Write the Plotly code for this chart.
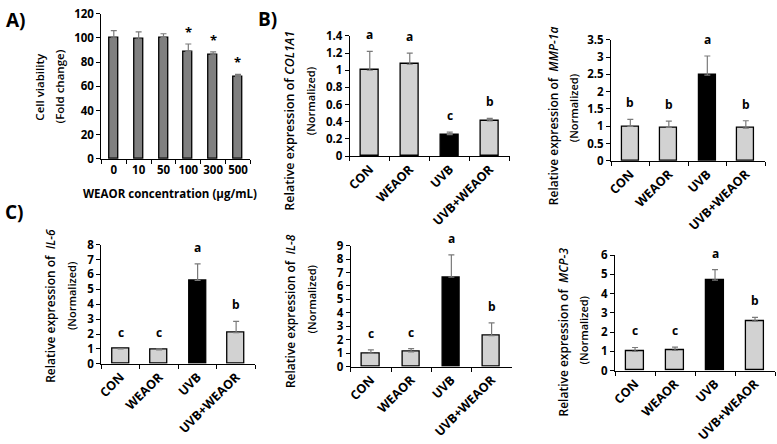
import plotly.graph_objects as go

W, H = 777, 444

# ---------------- data ----------------
conc = ["0", "10", "50", "100", "300", "500"]
viability = [100, 99, 100.5, 89, 86, 68]
viability_sd = [6, 6, 3, 6, 2.5, 2]
viability_sig = ["", "", "", "*", "*", "*"]

groups = ["CON", "WEAOR", "UVB", "UVB+WEAOR"]
col1a1 = [1.0, 1.07, 0.25, 0.41]
col1a1_sd = [0.22, 0.13, 0.03, 0.03]
col1a1_sig = ["a", "a", "c", "b"]

mmp1a = [1.0, 0.97, 2.48, 0.95]
mmp1a_sd = [0.2, 0.18, 0.55, 0.21]
mmp1a_sig = ["b", "b", "a", "b"]

il6 = [1.0, 0.93, 5.6, 2.1]
il6_sd = [0.02, 0.07, 1.1, 0.75]
il6_sig = ["c", "c", "a", "b"]

il8 = [1.0, 1.1, 6.65, 2.3]
il8_sd = [0.25, 0.25, 1.65, 0.95]
il8_sig = ["c", "c", "a", "b"]

mcp3 = [1.0, 1.05, 4.7, 2.57]
mcp3_sd = [0.2, 0.17, 0.55, 0.2]
mcp3_sig = ["c", "c", "a", "b"]

FONT = "Open Sans"

def px_x(p):
    return p / W

def px_y(p):
    return 1 - p / H

light, dark, mid = "#d2d2d2", "#000000", "#808080"
grp_colors = [light, light, dark, light]
panels = [
    (conc, viability, viability_sd, viability_sig, 120, 20, 97, 247, 6, 157, [mid] * 6, 0.36, 0, 11.5),
    (groups, col1a1, col1a1_sd, col1a1_sig, 1.4, 0.2, 347, 508, 29, 154, grp_colors, 0.43, -45, 12.5),
    (groups, mmp1a, mmp1a_sd, mmp1a_sig, 3.5, 0.5, 610, 765, 33, 159, grp_colors, 0.43, -45, 12.5),
    (groups, il6, il6_sd, il6_sig, 8, 1, 97, 252, 246, 370, grp_colors, 0.43, -45, 12.5),
    (groups, il8, il8_sd, il8_sig, 9, 1, 348, 510, 247, 373, grp_colors, 0.43, -45, 12.5),
    (groups, mcp3, mcp3_sd, mcp3_sig, 6, 1, 614, 775, 257, 377, grp_colors, 0.43, -45, 12.5),
]

fig = go.Figure()
annotations = []
layout = {}
for i, (cats, vals, sd, sig, ymax, dt, x0, x1, yt, yb, colors, bw, ta, xfs) in enumerate(panels, start=1):
    xa = "x" if i == 1 else f"x{i}"
    ya = "y" if i == 1 else f"y{i}"
    fig.add_trace(go.Bar(
        x=cats, y=vals, xaxis=xa, yaxis=ya, width=bw,
        marker=dict(color=colors, line=dict(color="black", width=1.3)),
        error_y=dict(type="data", symmetric=False, array=sd, arrayminus=[0] * len(sd),
                     color="#7a7a7a", thickness=1.2, width=3),
        showlegend=False, hoverinfo="skip",
    ))
    layout["xaxis" if i == 1 else f"xaxis{i}"] = dict(
        domain=[px_x(x0), px_x(x1)], anchor=ya, type="category",
        range=[-0.5, len(cats) - 0.5], showline=True, linecolor="black", linewidth=1.3,
        ticks="outside", tickson="boundaries", ticklen=4, tickcolor="black",
        tickangle=ta, showgrid=False, zeroline=False,
        tickfont=dict(family=FONT, size=xfs, color="black", weight="bold"),
    )
    layout["yaxis" if i == 1 else f"yaxis{i}"] = dict(
        domain=[px_y(yb), px_y(yt)], anchor=xa, range=[0, ymax], dtick=dt,
        showline=True, linecolor="black", linewidth=1.3, ticks="outside", ticklen=4,
        tickcolor="black", showgrid=False, zeroline=False,
        tickfont=dict(family=FONT, size=11.5, color="black", weight="bold"),
    )
    for k, (v, s, t) in enumerate(zip(vals, sd, sig)):
        if t:
            annotations.append(dict(
                x=k, y=v + s, xref=xa, yref=ya, text=t, showarrow=False,
                yanchor="bottom", yshift=(1 if t == "*" else 6),
                font=dict(family=FONT, size=(13 if t == "*" else 12), color="black", weight="bold"),
            ))

# y-axis titles (two lines each): text, x px, y px, size
ytitles = [
    ("Cell viability", 35, 82, 11.5), ("(Fold change)", 55, 82, 11.5),
    ("Relative expression of <i>COL1A1</i>", 286, 117, 12.5), ("(Normalized)", 307, 97, 11),
    ("Relative expression of  <i>MMP-1a</i>", 552, 112, 12), ("(Normalized)", 572, 104, 11),
    ("Relative expression of  <i>IL-6</i>", 45, 310, 12), ("(Normalized)", 67, 299, 11),
    ("Relative expression of  <i>IL-8</i>", 288, 315, 12), ("(Normalized)", 308, 303, 11),
    ("Relative expression of  <i>MCP-3</i>", 562, 337, 12), ("(Normalized)", 582, 335, 11),
]
for txt, x, y, fs in ytitles:
    annotations.append(dict(
        x=px_x(x), y=px_y(y), xref="paper", yref="paper", text=txt, textangle=-90,
        showarrow=False, xanchor="center", yanchor="middle",
        font=dict(family=FONT, size=fs, color="black", weight=600),
    ))

# x title of panel A
annotations.append(dict(
    x=px_x(166), y=px_y(193), xref="paper", yref="paper",
    text="WEAOR concentration (μg/mL)", showarrow=False, xanchor="center", yanchor="middle",
    font=dict(family=FONT, size=11.5, color="black", weight="bold"),
))

# panel labels
for lab, x, y in [("A)", 11, 12), ("B)", 264, 11), ("C)", 10, 212)]:
    annotations.append(dict(
        x=px_x(x), y=px_y(y), xref="paper", yref="paper", text=lab, showarrow=False,
        xanchor="center", yanchor="middle",
        font=dict(family=FONT, size=19, color="black", weight="bold"),
    ))

fig.update_layout(
    width=W, height=H, margin=dict(l=0, r=0, t=0, b=0),
    paper_bgcolor="white", plot_bgcolor="white",
    annotations=annotations, bargap=0, **layout,
)

fig.write_html("out.html", config={"displayModeBar": False},
               post_script="document.body.style.margin='0';document.body.style.overflow='hidden';")
